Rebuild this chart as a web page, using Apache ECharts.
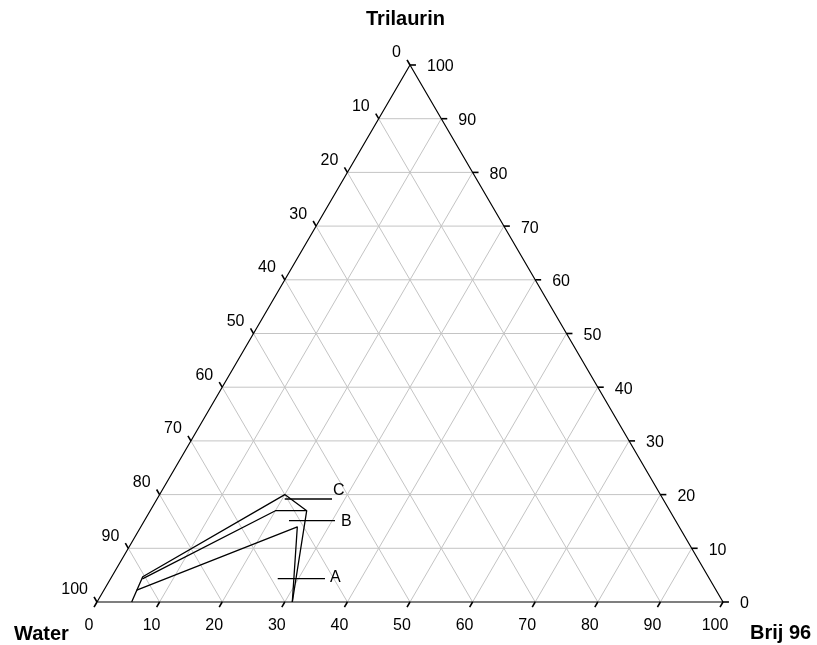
<!DOCTYPE html>
<html><head><meta charset="utf-8">
<script src="https://cdn.jsdelivr.net/npm/echarts@6/dist/echarts.min.js"></script>
<style>html,body{margin:0;padding:0;background:#fff}#c{width:817px;height:645px}</style>
</head><body><div id="c"></div>
<script>
// ---- data (ternary triples: [Water, Brij 96, Trilaurin]) ----
const axisNames = ['Water', 'Brij 96', 'Trilaurin'];
const tickValues = [0, 10, 20, 30, 40, 50, 60, 70, 80, 90, 100];
const gridValues = [10, 20, 30, 40, 50, 60, 70, 80, 90];
// region boundaries (open polylines; the rest of each boundary lies on the triangle edges)
const regionA = [[92.55, 5.25, 2.2], [61, 25, 14], [68.8, 31.2, 0]];
const regionB = [[90.6, 5.1, 4.3], [63, 20, 17], [58, 25, 17]];
const regionC = [[94.46, 5.54, 0], [90.34, 4.95, 4.71], [60, 20, 20], [58, 25, 17], [68.8, 31.2, 0]];
const regionNames = ['A', 'B', 'C'];
const pointerFrom = [[68.96, 26.7, 4.34], [61.76, 23.1, 15.14], [60.42, 20.4, 19.18]];
const pointerTo = [[61.41, 34.25, 4.34], [54.41, 30.45, 15.14], [52.87, 27.95, 19.18]];

// ---- helpers ----
const SQ = Math.sqrt(3) / 2;
function toXY(p) {
  const s = p[0] + p[1] + p[2];
  const b = p[1] / s * 100, t = p[2] / s * 100;
  return [b + t / 2, t * SQ];
}
const FONT = '"Liberation Sans", Arial, sans-serif';

// grid line segments
const gridSegs = [];
gridValues.forEach(v => {
  let a = toXY([100 - v, 0, v]), b = toXY([0, 100 - v, v]);
  gridSegs.push([a[0], a[1], b[0], b[1]]);
  a = toXY([100 - v, v, 0]); b = toXY([0, v, 100 - v]);
  gridSegs.push([a[0], a[1], b[0], b[1]]);
  a = toXY([v, 100 - v, 0]); b = toXY([v, 0, 100 - v]);
  gridSegs.push([a[0], a[1], b[0], b[1]]);
});

// tick segments and labels
const TL = 0.95;
const tickSegs = [];
const leftLabels = [], bottomLabels = [], rightLabels = [];
tickValues.forEach(v => {
  let p = toXY([v, 0, 100 - v]);
  tickSegs.push([p[0], p[1], p[0] - 0.5 * TL, p[1] + SQ * TL]);
  leftLabels.push([p[0], p[1], v]);
  p = toXY([100 - v, v, 0]);
  tickSegs.push([p[0], p[1], p[0] - 0.5 * TL, p[1] - SQ * TL]);
  bottomLabels.push([p[0], p[1], v]);
  p = toXY([0, 100 - v, v]);
  tickSegs.push([p[0], p[1], p[0] + TL, p[1]]);
  rightLabels.push([p[0], p[1], v]);
});

const pointerSegs = pointerFrom.map((f, i) => {
  const a = toXY(f), b = toXY(pointerTo[i]);
  return [a[0], a[1], b[0], b[1], i];
});

function segSeries(data, color, width, z) {
  return {
    type: 'custom', clip: false, silent: true, z: z,
    data: data,
    renderItem: function (params, api) {
      const p1 = api.coord([api.value(0), api.value(1)]);
      const p2 = api.coord([api.value(2), api.value(3)]);
      return { type: 'line', shape: { x1: p1[0], y1: p1[1], x2: p2[0], y2: p2[1] },
        style: { stroke: color, lineWidth: width } };
    }
  };
}
function textSeries(data, dx, dy, align) {
  return {
    type: 'custom', clip: false, silent: true, z: 5,
    data: data,
    renderItem: function (params, api) {
      const p = api.coord([api.value(0), api.value(1)]);
      return { type: 'text', x: p[0] + dx, y: p[1] + dy,
        style: { text: String(api.value(2)), font: '16px ' + FONT, fill: '#000',
          textAlign: align, textVerticalAlign: 'middle' } };
    }
  };
}
function polySeries(pts) {
  return { type: 'line', data: pts.map(toXY), showSymbol: false, symbol: 'none', clip: false, z: 4,
    silent: true, lineStyle: { color: '#000', width: 1.3 } };
}

const triangle = [toXY([100, 0, 0]), toXY([0, 100, 0]), toXY([0, 0, 100]), toXY([100, 0, 0])];
const pointerLabelOffsets = [[5, -1], [6, 1], [1, -8]];

const chart = echarts.init(document.getElementById('c'), null, { renderer: 'canvas' });
chart.setOption({
  animation: false,
  backgroundColor: '#fff',
  title: [
    { text: axisNames[2], left: 366, top: 9, padding: 0, textStyle: { fontFamily: FONT, fontSize: 20, fontWeight: 'bold', color: '#000' } },
    { text: axisNames[0], left: 14, top: 624, padding: 0, textStyle: { fontFamily: FONT, fontSize: 20, fontWeight: 'bold', color: '#000' } },
    { text: axisNames[1], left: 750, top: 623, padding: 0, textStyle: { fontFamily: FONT, fontSize: 20, fontWeight: 'bold', color: '#000' } }
  ],
  grid: { left: 97, top: 65, width: 626, height: 537, show: false },
  xAxis: { type: 'value', min: 0, max: 100, show: false },
  yAxis: { type: 'value', min: 0, max: 100 * SQ, show: false },
  series: [
    segSeries(gridSegs, '#c4c4c4', 1, 1),
    { type: 'line', data: triangle, showSymbol: false, symbol: 'none', clip: false, z: 3, silent: true,
      lineStyle: { color: '#000', width: 1.2 } },
    segSeries(tickSegs, '#000', 1.6, 3),
    polySeries(regionC),
    polySeries(regionB),
    polySeries(regionA),
    segSeries(pointerSegs, '#000', 1.3, 4),
    textSeries(leftLabels, -9, -12, 'right'),
    textSeries(bottomLabels, -8, 24, 'center'),
    textSeries(rightLabels, 17, 2, 'left'),
    {
      type: 'custom', clip: false, silent: true, z: 5,
      data: pointerSegs,
      renderItem: function (params, api) {
        const p = api.coord([api.value(2), api.value(3)]);
        const off = pointerLabelOffsets[params.dataIndex];
        return { type: 'text', x: p[0] + off[0], y: p[1] + off[1],
          style: { text: regionNames[api.value(4)], font: '16px ' + FONT, fill: '#000',
            textAlign: 'left', textVerticalAlign: 'middle' } };
      }
    }
  ]
});
</script></body></html>
